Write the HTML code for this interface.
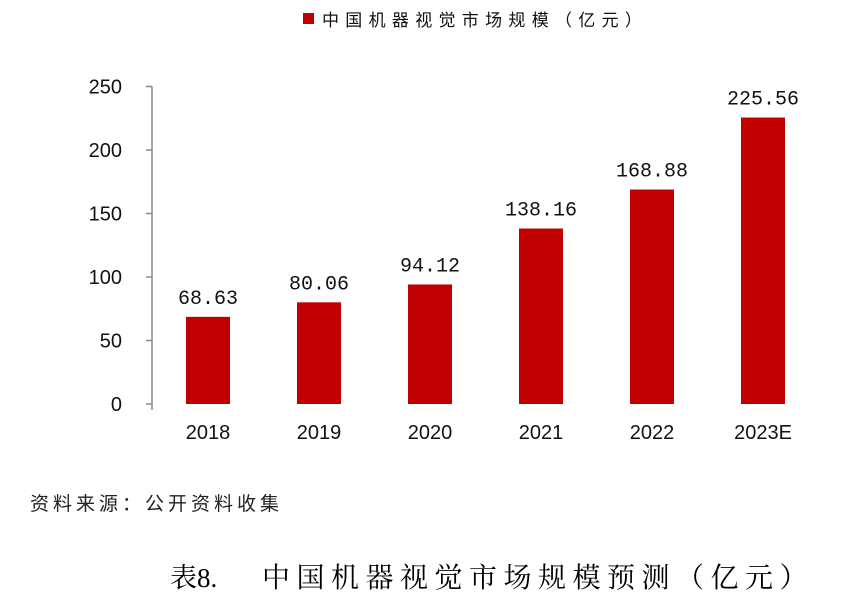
<!DOCTYPE html>
<html><head><meta charset="utf-8">
<style>
body{margin:0;width:866px;height:600px;background:#fff;overflow:hidden;font-family:"Liberation Sans","Noto Sans CJK SC",sans-serif;}
svg{position:absolute;left:0;top:0}
</style></head>
<body>
<svg width="866" height="600">
<g id="root"></g>
</svg>
<script>
const categories=["2018","2019","2020","2021","2022","2023E"];
const values=[68.63,80.06,94.12,138.16,168.88,225.56];
const valueLabels=["68.63","80.06","94.12","138.16","168.88","225.56"];
const ticks=[0,50,100,150,200,250];
const NS="http://www.w3.org/2000/svg";
const root=document.getElementById('root');
function y(v){return 404-v*1.27;}
function x(i){return 208+i*111;}
function mk(tag,attrs,txt){const e=document.createElementNS(NS,tag);for(const k in attrs)e.setAttribute(k,attrs[k]);if(txt!==undefined)e.textContent=txt;root.appendChild(e);return e;}
let ax=mk('line',{x1:152,x2:152,y1:y(250),y2:410,stroke:'#888','stroke-width':1.5});


ticks.forEach(t=>{
 let l=mk('line',{x1:146,x2:152,y1:y(t),y2:y(t),stroke:'#888','stroke-width':1.5});
 
 
 let tx=mk('text',{x:122,y:y(t)+7,'text-anchor':'end','font-size':20,fill:'#111'},String(t));
 
 
});
categories.forEach((c,i)=>{
 let r=mk('rect',{x:x(i)-22,y:y(values[i]),width:44,height:y(0)-y(values[i]),fill:'#c00000'});
 
 
 let v=mk('text',{x:x(i),y:y(values[i])-13,'text-anchor':'middle','font-size':20,'font-family':'Liberation Mono, monospace',fill:'#111'},valueLabels[i]);
 
 
 let l=mk('text',{x:x(i),y:439,'text-anchor':'middle','font-size':20,fill:'#111'},c);
 
 
});
let lg=mk('rect',{x:303,y:13,width:11,height:11,fill:'#c00000'});


let lt=mk('text',{x:322,y:26,'font-size':17,fill:'#111','letter-spacing':'6.3'},'中国机器视觉市场规模（亿元）');


let src=mk('text',{x:30,y:510,'font-size':19,fill:'#222','letter-spacing':'4'},'资料来源：公开资料收集');


let tn=mk('text',{x:170,y:587,'font-size':27,fill:'#000','font-family':'Liberation Serif, Noto Serif CJK SC, serif'},'表8.');


let tt=mk('text',{x:262,y:587,'font-size':28,fill:'#000','letter-spacing':'6.5','font-family':'Liberation Serif, Noto Serif CJK SC, serif'},'中国机器视觉市场规模预测（亿元）');


</script>
</body></html>
